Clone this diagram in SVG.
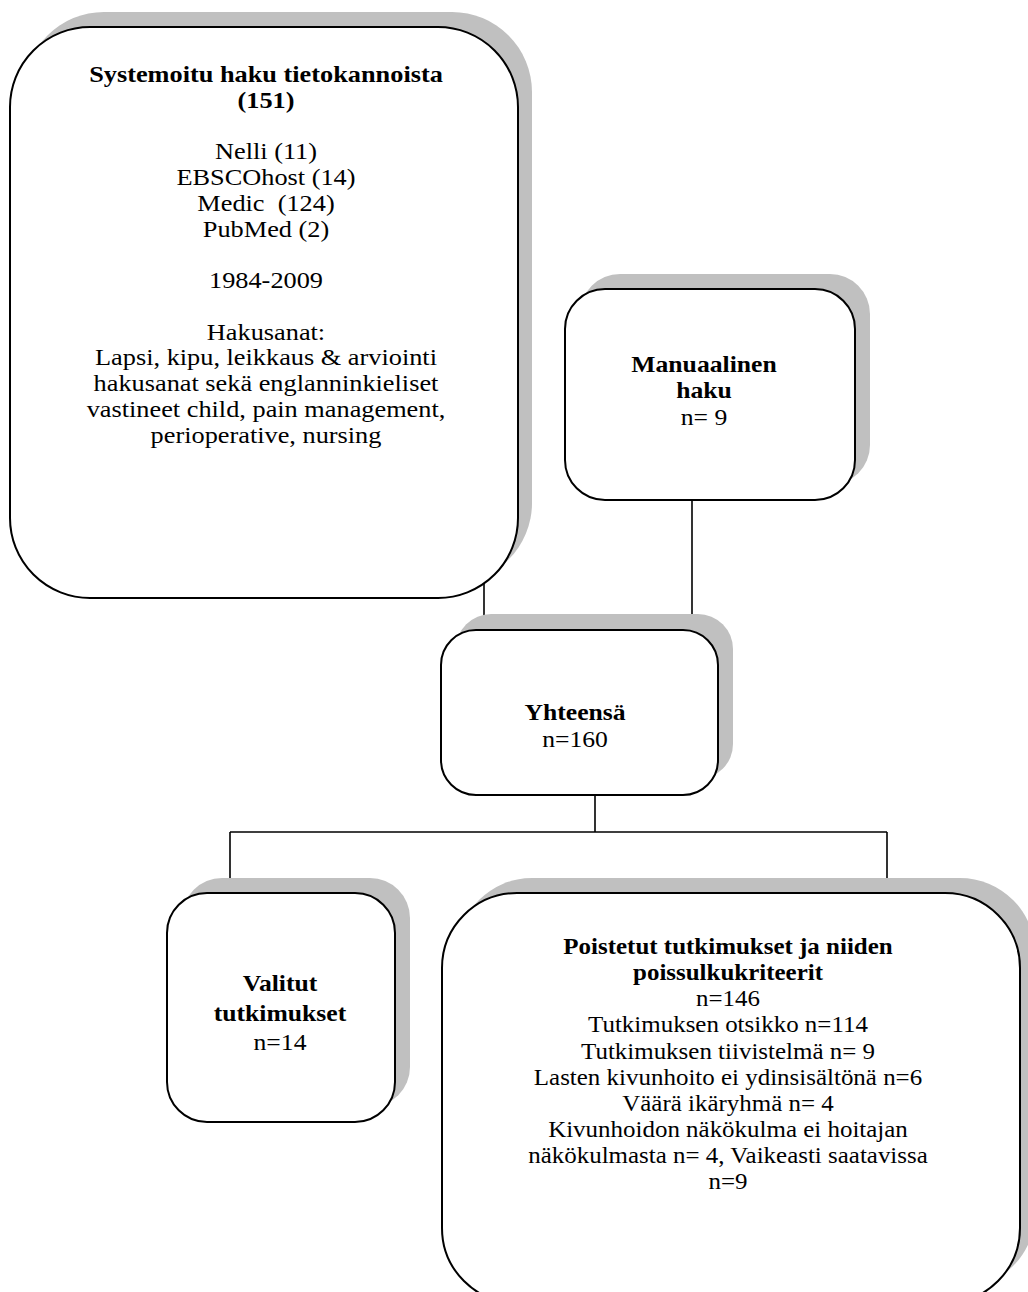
<svg xmlns="http://www.w3.org/2000/svg" width="1028" height="1292" viewBox="0 0 1028 1292">
<style>
.sh{fill:#c0c0c0;stroke:none}
.bx{fill:#fff;stroke:#000;stroke-width:2}
.ln{fill:none;stroke:#000;stroke-width:1.6}
text{font-family:"Liberation Serif","Times New Roman",serif;font-size:22.5px;text-anchor:middle;fill:#000}
.b{font-weight:bold}
</style>
<rect width="1028" height="1292" fill="#fff"/>
<g id="connectors">
<path class="ln" d="M484,560 V632"/>
<path class="ln" d="M692,498 V632"/>
<path class="ln" d="M595,795 V832 M230,832 H887 M230,832 V895 M887,832 V895"/>
</g>
<g id="node-systemoitu">
<rect class="sh" x="24" y="12" width="508" height="571" rx="80"/>
<rect class="bx" x="10" y="27" width="508" height="571" rx="80"/>
<g transform="translate(266,0) scale(1.17,1)">
<text class="b" x="0" y="82">Systemoitu haku tietokannoista</text>
<text class="b" x="0" y="108">(151)</text>
<text x="0" y="159">Nelli (11)</text>
<text x="0" y="185">EBSCOhost (14)</text>
<text x="0" y="211" xml:space="preserve">Medic  (124)</text>
<text x="0" y="237">PubMed (2)</text>
<text x="0" y="288">1984-2009</text>
<text x="0" y="340">Hakusanat:</text>
<text x="0" y="365">Lapsi, kipu, leikkaus &amp; arviointi</text>
<text x="0" y="391">hakusanat sekä englanninkieliset</text>
<text x="0" y="417">vastineet child, pain management,</text>
<text x="0" y="443">perioperative, nursing</text>
</g>
</g>
<g id="node-manuaalinen">
<rect class="sh" x="580" y="274" width="290" height="211" rx="40"/>
<rect class="bx" x="565" y="289" width="290" height="211" rx="40"/>
<g transform="translate(704,0) scale(1.14,1)">
<text class="b" x="0" y="372">Manuaalinen</text>
<text class="b" x="0" y="398">haku</text>
<text x="0" y="425">n= 9</text>
</g>
</g>
<g id="node-yhteensa">
<rect class="sh" x="456" y="614" width="277" height="165" rx="35"/>
<rect class="bx" x="441" y="630" width="277" height="165" rx="35"/>
<g transform="translate(575,0) scale(1.14,1)">
<text class="b" x="0" y="720">Yhteensä</text>
<text x="0" y="747">n=160</text>
</g>
</g>
<g id="node-valitut">
<rect class="sh" x="182" y="878" width="228" height="229" rx="40"/>
<rect class="bx" x="167" y="893" width="228" height="229" rx="40"/>
<g transform="translate(280,0) scale(1.14,1)">
<text class="b" x="0" y="991">Valitut</text>
<text class="b" x="0" y="1021">tutkimukset</text>
<text x="0" y="1050">n=14</text>
</g>
</g>
<g id="node-poistetut">
<rect class="sh" x="457" y="878" width="578" height="410" rx="75"/>
<rect class="bx" x="442" y="893" width="578" height="410" rx="75"/>
<g transform="translate(728,0) scale(1.11,1)">
<text class="b" x="0" y="954">Poistetut tutkimukset ja niiden</text>
<text class="b" x="0" y="980">poissulkukriteerit</text>
<text x="0" y="1006">n=146</text>
<text x="0" y="1032">Tutkimuksen otsikko n=114</text>
<text x="0" y="1059">Tutkimuksen tiivistelmä n= 9</text>
<text x="0" y="1085">Lasten kivunhoito ei ydinsisältönä n=6</text>
<text x="0" y="1111">Väärä ikäryhmä n= 4</text>
<text x="0" y="1137">Kivunhoidon näkökulma ei hoitajan</text>
<text x="0" y="1163">näkökulmasta n= 4, Vaikeasti saatavissa</text>
<text x="0" y="1189">n=9</text>
</g>
</g>
</svg>
